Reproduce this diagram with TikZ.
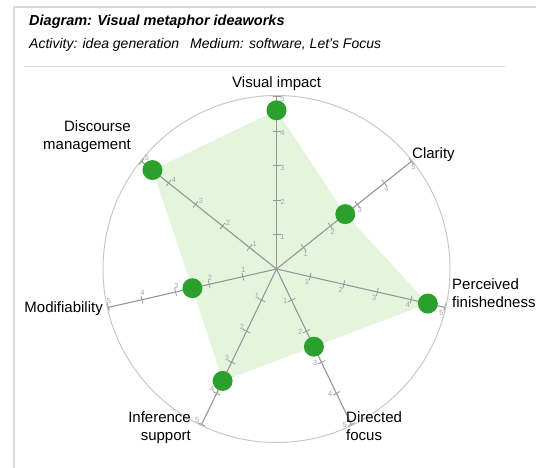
\documentclass[tikz,border=0pt]{standalone}
\usepackage{fontspec}
\setmainfont{Liberation Sans}
\definecolor{dotgreen}{RGB}{44,160,44}
\definecolor{polyfill}{RGB}{229,245,221}
\definecolor{axisgray}{RGB}{150,150,150}
\definecolor{ringgray}{RGB}{200,200,200}
\definecolor{framegray}{RGB}{218,218,218}
\definecolor{ticklbl}{RGB}{165,165,165}
\begin{document}
\begin{tikzpicture}[x=1pt,y=1pt,
  axislabel/.style={font=\fontsize{15}{18}\selectfont, inner sep=0pt},
  axisline/.style={draw=axisgray, line width=1.1pt},
  tickmark/.style={draw=axisgray, line width=0.8pt},
  ticklabel/.style={font=\fontsize{7.5}{9}\selectfont, text=ticklbl, inner sep=0pt},
  dotnode/.style={circle, fill=dotgreen, draw=none, minimum size=20pt, inner sep=0pt},
  frameline/.style={draw=framegray, line width=1.2pt}]
\useasboundingbox (0,0) rectangle (536,468);
% frame
\coordinate (fb) at (14,0);
\coordinate (fc) at (14,461);
\coordinate (fr) at (536,461);
\draw[frameline] (fb) -- (fc) -- (fr);
\coordinate (sl) at (24,401);
\coordinate (sr) at (505,401);
\draw[frameline, line width=1pt] (sl) -- (sr);
% header
\node[anchor=base west, inner sep=0pt, font=\fontsize{14.5}{17}\selectfont\bfseries\itshape] (title) at (29,442) {Diagram: Visual metaphor ideaworks};
\node[anchor=base west, inner sep=0pt, font=\fontsize{14}{17}\selectfont\itshape] (activity) at (29,419) {Activity: idea generation};
\node[anchor=base west, inner sep=0pt, font=\fontsize{14}{17}\selectfont\itshape] (medium) at (190,419) {Medium: software, Let's Focus};
% radar
\coordinate (C) at (276.5,199);
\draw[ringgray, line width=1pt] (C) circle (173.5);
\foreach \i/\v in {0/4.6,1/2.55,2/4.5,3/2.5,4/3.6,5/2.5,6/4.6} {
  \pgfmathsetmacro\a{90-\i*360/7}
  \coordinate (v\i) at ([shift={(\a:{\v*34.5})}]C);
  \coordinate (e\i) at ([shift={(\a:172.5)}]C);
}
\fill[polyfill] (v0) -- (v1) -- (v2) -- (v3) -- (v4) -- (v5) -- (v6) -- cycle;
\foreach \i in {0,...,6} {
  \pgfmathsetmacro\a{90-\i*360/7}
  \draw[axisline] (C) -- (e\i);
  \foreach \k in {1,...,5} {
    \draw[tickmark] ([shift={(\a:{\k*34.5})}]C) ++({\a+90}:4) -- ++({\a-90}:8);
    \path ([shift={(\a:{\k*34.5-2})}]C) ++({\a-90}:6) node[ticklabel] (t\i\k) {\k};
  }
}
\foreach \i in {0,...,6} {
  \node[dotnode] (d\i) at (v\i) {};
}
% axis labels
\node[axislabel, anchor=base] (l0) at (276.7,380) {Visual impact};
\node[axislabel, anchor=base west] (l1) at (412,309) {Clarity};
\node[axislabel, anchor=base west, align=left] (l2) at (452,160) {Perceived\\finishedness};
\node[axislabel, anchor=base west, align=left] (l3) at (346,27) {Directed\\focus};
\node[axislabel, anchor=base east, align=right] (l4) at (191,27) {Inference\\support};
\node[axislabel, anchor=base east] (l5) at (103,155) {Modifiability};
\node[axislabel, anchor=base east, align=right] (l6) at (131,318) {Discourse\\management};
\end{tikzpicture}
\end{document}
